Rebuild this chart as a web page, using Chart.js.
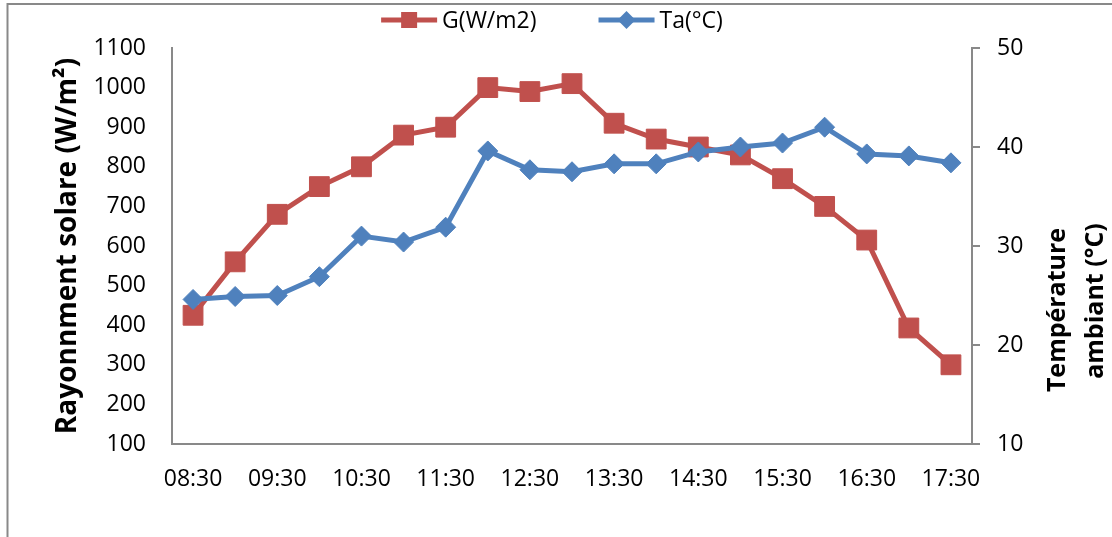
<!DOCTYPE html>
<html>
<head>
<meta charset="utf-8">
<script src="https://cdn.jsdelivr.net/npm/chart.js@4.4.1/dist/chart.umd.min.js"></script>
<style>
  html, body { margin: 0; padding: 0; background: #fff; }
</style>
</head>
<body>
<canvas id="grafico" width="1112" height="537"></canvas>
<script>
// mesures de la journée, pas de 30 min
const horas = ['08:30', '09:00', '09:30', '10:00', '10:30', '11:00', '11:30', '12:00', '12:30', '13:00',
               '13:30', '14:00', '14:30', '15:00', '15:30', '16:00', '16:30', '17:00', '17:30'];
const rayonnement = [425, 560, 680, 750, 800, 880, 900, 1000, 990, 1010, 910, 870, 850, 830, 770, 700, 615, 393, 300];
const temperature = [24.6, 24.9, 25.0, 26.9, 31.0, 30.4, 31.9, 39.6, 37.7, 37.5, 38.3, 38.3, 39.5, 40.0, 40.4, 42.0, 39.3, 39.1, 38.4];
const ticksG = [100, 200, 300, 400, 500, 600, 700, 800, 900, 1000, 1100];
const ticksTa = [10, 20, 30, 40, 50];

const cinza = '#898989';
Chart.defaults.font.family = '"Open Sans", sans-serif';
Chart.defaults.color = '#000';

// cadre gris en haut et à gauche
const moldura = {
  id: 'moldura',
  beforeDraw(chart) {
    const c = chart.ctx;
    c.save();
    c.strokeStyle = cinza;
    c.lineWidth = 2;
    c.beginPath();
    c.moveTo(7.5, chart.height);
    c.lineTo(7.5, 4);
    c.lineTo(chart.width, 4);
    c.stroke();
    c.restore();
  }
};

// légende façon Excel : trait + marqueur
const legenda = {
  id: 'legenda',
  afterDraw(chart) {
    const c = chart.ctx;
    const y = 20, traco = 56, gap = 5, entre = 62;
    c.save();
    c.font = '23px "Open Sans"';
    c.textBaseline = 'middle';
    const sets = chart.data.datasets;
    const larguras = sets.map(d => traco + gap + c.measureText(d.label).width);
    let x = 552 - (larguras.reduce((a, b) => a + b, 0) + entre * (sets.length - 1)) / 2;
    sets.forEach((d, i) => {
      c.strokeStyle = d.borderColor;
      c.fillStyle = d.borderColor;
      c.lineWidth = 5;
      c.beginPath();
      c.moveTo(x, y);
      c.lineTo(x + traco, y);
      c.stroke();
      const cx = x + traco / 2;
      c.beginPath();
      if (d.pointStyle === 'rect') {
        c.rect(cx - 8, y - 8, 16, 16);
      } else {
        c.moveTo(cx - 9, y); c.lineTo(cx, y - 9); c.lineTo(cx + 9, y); c.lineTo(cx, y + 9);
        c.closePath();
      }
      c.fill();
      c.fillStyle = '#000';
      c.fillText(d.label, x + traco + gap, y + 1);
      x += larguras[i] + entre;
    });
    c.restore();
  }
};

// titre de l'axe droit, lu de bas en haut
const tituloDireita = {
  id: 'tituloDireita',
  afterDraw(chart) {
    const c = chart.ctx;
    c.save();
    c.font = 'bold 25px "Open Sans"';
    c.fillStyle = '#000';
    c.textAlign = 'center';
    c.textBaseline = 'middle';
    c.translate(1077, 305);
    c.rotate(-Math.PI / 2);
    c.fillText('Température', -5, -19);
    c.fillText('ambiant (°C)', 4, 19);
    c.restore();
  }
};

const ctx = document.getElementById('grafico').getContext('2d');

new Chart(ctx, {
  type: 'line',
  data: {
    labels: horas,
    datasets: [{
      label: 'G(W/m2)',
      data: rayonnement,
      yAxisID: 'y',
      borderColor: '#C0504D',
      backgroundColor: '#C0504D',
      borderWidth: 5,
      pointStyle: 'rect',
      pointRadius: 14,
      pointBorderWidth: 1,
      tension: 0,
      order: 1
    }, {
      label: 'Ta(°C)',
      data: temperature,
      yAxisID: 'y1',
      borderColor: '#4F81BD',
      backgroundColor: '#4F81BD',
      borderWidth: 5,
      pointStyle: 'rectRot',
      pointRadius: 10,
      pointBorderWidth: 1,
      tension: 0,
      order: 0
    }]
  },
  options: {
    responsive: false,
    animation: false,
    layout: { padding: { top: 48, left: 10, right: 10, bottom: 0 } },
    plugins: {
      legend: { display: false },
      tooltip: { enabled: false }
    },
    scales: {
      x: {
        offset: true,
        grid: { display: false, drawTicks: false },
        border: { display: true, color: cinza, width: 2 },
        ticks: {
          autoSkip: false,
          maxRotation: 0,
          padding: 22,
          font: { size: 23 },
          callback: (v, i) => (i % 2 === 0 ? horas[i] : '')
        },
        afterFit: s => { s.height = 93; }
      },
      y: {
        position: 'left',
        min: 100,
        max: 1100,
        afterBuildTicks: s => { s.ticks = ticksG.map(v => ({ value: v })); },
        grid: { display: false, drawTicks: false },
        border: { display: true, color: cinza, width: 2 },
        ticks: { padding: 26, font: { size: 23 }, callback: v => String(v) },
        title: {
          display: true,
          text: 'Rayonnment solare (W/m²)',
          font: { size: 28, weight: 'bold' },
          padding: { top: 41, bottom: 0 }
        },
        afterFit: s => { s.width = 162; }
      },
      y1: {
        position: 'right',
        min: 10,
        max: 50,
        afterBuildTicks: s => { s.ticks = ticksTa.map(v => ({ value: v })); },
        grid: { display: true, drawOnChartArea: false, drawTicks: true, tickLength: 8, color: cinza, lineWidth: 2 },
        border: { display: true, color: cinza, width: 2 },
        ticks: { padding: 17, font: { size: 23 }, callback: v => String(v) },
        afterFit: s => { s.width = 130; }
      }
    }
  },
  plugins: [moldura, legenda, tituloDireita]
});
</script>
</body>
</html>
